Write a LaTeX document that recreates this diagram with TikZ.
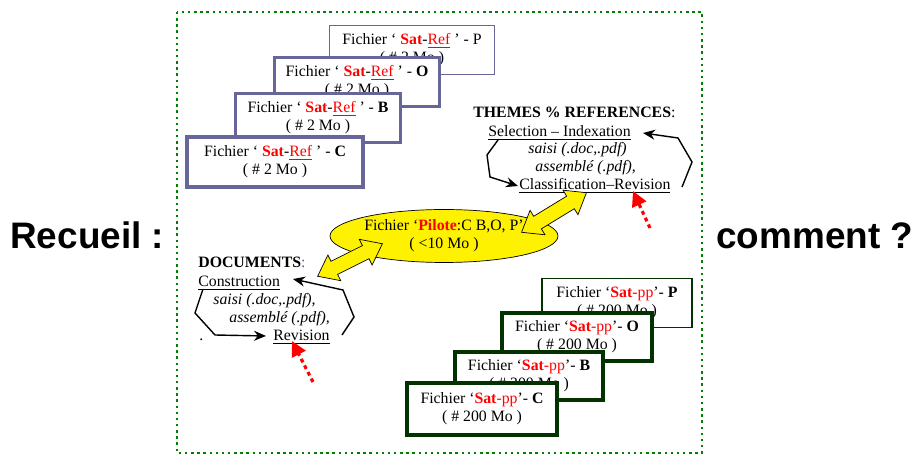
\documentclass[tikz,border=0pt]{standalone}
\usepackage{fontspec}
\setmainfont{Liberation Serif}
\newfontfamily\titlefont{Liberation Sans}
\usetikzlibrary{shapes.geometric,shapes.arrows,arrows.meta}

\definecolor{refblue}{RGB}{102,102,153}
\definecolor{ppgreen}{RGB}{0,51,0}
\definecolor{framegreen}{RGB}{0,128,0}
\definecolor{colonblue}{RGB}{80,100,140}

% texte des fichiers satellites
\newcommand{\satref}[1]{Fichier ‘ \textcolor{red}{\textbf{Sat}}-\textcolor{red}{\underline{Ref}} ’ - #1\\( \# 2 Mo )}
\newcommand{\satpp}[1]{Fichier ‘\textcolor{red}{\textbf{Sat}-pp}’- \textbf{#1}\\( \# 200 Mo )}

\begin{document}
\begin{tikzpicture}[x=0.02cm, y=-0.02cm, font=\fontsize{9}{10.2}\selectfont,
	refbox/.style={draw=refblue, fill=white, align=center, minimum width=3.3cm, minimum height=0.98cm},
	ppbox/.style={draw=ppgreen, fill=white, align=center, minimum width=3cm, minimum height=0.98cm},
	fatarrow/.style={double arrow, draw=black, fill=yellow, inner xsep=0pt, inner ysep=0.14cm, minimum width=0.56cm, double arrow head extend=0.14cm, double arrow tip angle=75},
	loopline/.style={thick, -{Stealth[length=2.4mm, width=2mm]}},
	redhint/.style={red, line width=1.8pt, dash pattern=on 2.2pt off 2pt, -{Triangle[length=3mm, width=3mm]}},
	txt/.style={inner sep=0pt, anchor=base west},
	bigtxt/.style={font=\titlefont\bfseries\fontsize{21}{25}\selectfont, inner sep=0pt, anchor=base west}]
	\useasboundingbox (0,0) rectangle (915,455);

	\draw[framegreen, line width=1.4pt, dash pattern=on 1.4pt off 2.1pt] (177,12) rectangle (702,453);

	\node (recueil) [bigtxt] at (10,249) {Recueil :};
	\node (comment) [bigtxt] at (716,249) {comment ?};

	% fichiers Sat-Ref
	\node (refP) [refbox, line width=1.1pt] at (412,50) {\satref{P}};
	\node (refO) [refbox, line width=1.7pt] at (357,82) {\satref{\textbf{O}}};
	\node (refB) [refbox, line width=1.8pt] at (318,118) {\satref{\textbf{B}}};
	\node (refC) [refbox, line width=2.6pt, minimum width=3.52cm, minimum height=1cm] at (275,162) {\satref{\textbf{C}}};

	% fichiers Sat-pp
	\node (ppP) [ppbox, line width=1.1pt] at (617,303) {\satpp{P}};
	\node (ppO) [ppbox, line width=2.3pt, minimum height=0.96cm] at (577,337) {\satpp{O}};
	\node (ppB) [ppbox, line width=1.8pt, minimum width=2.96cm, minimum height=0.96cm] at (529,376) {\satpp{B}};
	\node (ppC) [ppbox, line width=2.8pt, minimum height=1.04cm] at (482,409) {\satpp{C}};

	% fichier pilote
	\node (pilote) [ellipse, draw, fill=yellow, inner sep=0pt, align=center, minimum width=4.56cm, minimum height=1.06cm] at (444,236)
		{Fichier ‘\textcolor{red}{\textbf{Pilote}}:C B,O, P’\\( <10 Mo )};

	% themes
	\node (themes) [txt] at (473,118) {\textbf{THEMES \% REFERENCES}:};
	\node (selection) [txt] at (488,137) {\underline{Selection – Indexation}};
	\node (tsaisi) [txt] at (528,154) {\textit{saisi (.doc,.pdf)}};
	\node (tassemble) [txt] at (535,172) {\textit{assemblé (.pdf),}};
	\node (classif) [txt] at (519,190) {\underline{Classification–Revision}};

	% documents
	\node (documents) [txt] at (198,268) {\textbf{DOCUMENTS}\textcolor{colonblue}{:}};
	\node (construction) [txt] at (198,287) {\underline{Construction}};
	\node (dsaisi) [txt] at (213,305) {\textit{saisi (.doc,.pdf),}};
	\node (dassemble) [txt] at (229,323) {\textit{assemblé (.pdf),}};
	\node (revision) [txt] at (273,341) {\underline{Revision}};
	\node (point) [txt] at (199,341) {.};

	% fleches jaunes
	\node (arrowT) [fatarrow, minimum height=1.52cm, rotate=31.4] at (554,212.5) {};
	\node (arrowD) [fatarrow, minimum height=1.45cm, rotate=26.6] at (350,260) {};

	% boucles themes
	\coordinate (tl1) at (498,140);
	\coordinate (tl2) at (487,155);
	\coordinate (tl3) at (490,177);
	\coordinate (tl4) at (518,186);
	\coordinate (tr1) at (682,187);
	\coordinate (tr2) at (692,162);
	\coordinate (tr3) at (678,138);
	\coordinate (tr4) at (643,133);
	\draw[loopline] (tl1) -- (tl2) -- (tl3) -- (tl4);
	\draw[loopline] (tr1) -- (tr2) -- (tr3) -- (tr4);

	% boucles documents
	\coordinate (dl1) at (203,289);
	\coordinate (dl2) at (195,313);
	\coordinate (dl3) at (215,335);
	\coordinate (dl4) at (266,336);
	\coordinate (dr1) at (342,335);
	\coordinate (dr2) at (354,317);
	\coordinate (dr3) at (343,290);
	\coordinate (dr4) at (293,279);
	\draw[loopline] (dl1) -- (dl2) -- (dl3) -- (dl4);
	\draw[loopline] (dr1) -- (dr2) -- (dr3) -- (dr4);

	% fleches rouges
	\coordinate (hintT) at (650,228);
	\coordinate (hintD) at (313,382);
	\draw[redhint] (hintT) -- (633,191);
	\draw[redhint] (hintD) -- (292,341);
\end{tikzpicture}
\end{document}
